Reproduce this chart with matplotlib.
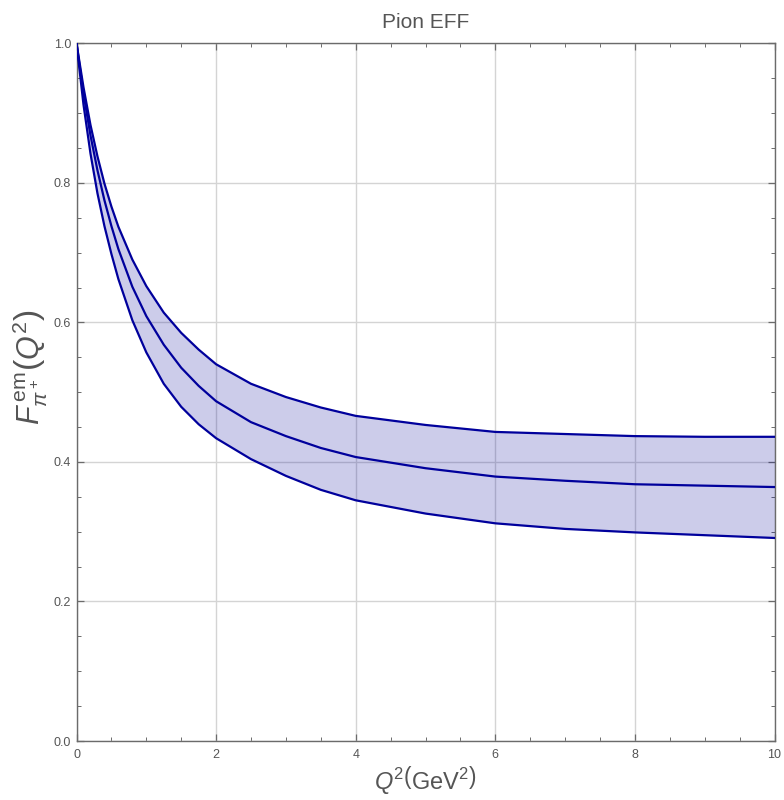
import matplotlib
matplotlib.use('Agg')
import matplotlib.pyplot as plt
from matplotlib.ticker import MultipleLocator

# Q^2 sample points (GeV^2) and the form factor band read at those points
q2 = [0.0, 0.1, 0.2, 0.3, 0.4, 0.5, 0.6, 0.8, 1.0, 1.25, 1.5, 1.75,
      2.0, 2.5, 3.0, 3.5, 4.0, 5.0, 6.0, 7.0, 8.0, 9.0, 10.0]
ff_central = [1.0, 0.928, 0.868, 0.818, 0.775, 0.738, 0.705, 0.651, 0.609, 0.568, 0.535, 0.509,
              0.487, 0.457, 0.437, 0.420, 0.407, 0.391, 0.379, 0.373, 0.368, 0.366, 0.364]
ff_upper = [1.0, 0.937, 0.883, 0.838, 0.799, 0.766, 0.737, 0.690, 0.652, 0.614, 0.585, 0.561,
            0.540, 0.512, 0.493, 0.478, 0.466, 0.453, 0.443, 0.440, 0.437, 0.436, 0.436]
ff_lower = [1.0, 0.912, 0.842, 0.785, 0.738, 0.698, 0.662, 0.603, 0.557, 0.512, 0.479, 0.454,
            0.434, 0.404, 0.380, 0.360, 0.345, 0.326, 0.312, 0.304, 0.299, 0.295, 0.291]

x_ticks = [0, 2, 4, 6, 8, 10]
y_ticks = [0.0, 0.2, 0.4, 0.6, 0.8, 1.0]
y_tick_labels = ['0.0', '0.2', '0.4', '0.6', '0.8', '1.0']

plt.rcParams['font.family'] = ['Liberation Sans', 'DejaVu Sans']
plt.rcParams['mathtext.fontset'] = 'custom'
plt.rcParams['mathtext.rm'] = 'Liberation Sans'
plt.rcParams['mathtext.it'] = 'Liberation Sans:italic'

line_color = '#00009c'
frame_color = '#6b6b6b'
text_color = '#555555'

fig = plt.figure(figsize=(7.84, 8.0), dpi=100)
ax = fig.add_axes([0.0976, 0.07375, 0.8903, 0.8721])

ax.fill_between(q2, ff_lower, ff_upper, color='#000099', alpha=0.2, linewidth=0, zorder=2)
for series in (ff_upper, ff_central, ff_lower):
    ax.plot(q2, series, color=line_color, linewidth=1.6, zorder=3)

ax.set_xlim(0, 10)
ax.set_ylim(0, 1.0)
ax.set_xticks(x_ticks)
ax.set_xticklabels([str(t) for t in x_ticks])
ax.set_yticks(y_ticks)
ax.set_yticklabels(y_tick_labels)
ax.xaxis.set_minor_locator(MultipleLocator(0.5))
ax.yaxis.set_minor_locator(MultipleLocator(0.05))

ax.grid(True, which='major', color='#d4d4d4', linewidth=1.0, zorder=0)
ax.set_axisbelow(True)

ax.tick_params(which='both', direction='in', top=True, right=True,
               color=frame_color, labelcolor=text_color, labelsize=9)
ax.tick_params(which='major', length=5, width=0.9, pad=4)
ax.tick_params(which='minor', length=3, width=0.7)
ax.tick_params(axis='x', which='major', pad=6)
for spine in ax.spines.values():
    spine.set_color(frame_color)
    spine.set_linewidth(1.0)

ax.set_title('Pion EFF', fontsize=15, color=text_color, pad=11)
ax.set_xlabel(r'$Q^2\left(\mathrm{GeV}^2\right)$', fontsize=17, color=text_color, labelpad=2)
ax.set_ylabel(r'$F^{\,\mathrm{em}}_{\pi^+}\left(Q^2\right)$', fontsize=22, color=text_color)
ax.yaxis.set_label_coords(-0.038, 0.535)

fig.savefig('out.png', dpi=100)
